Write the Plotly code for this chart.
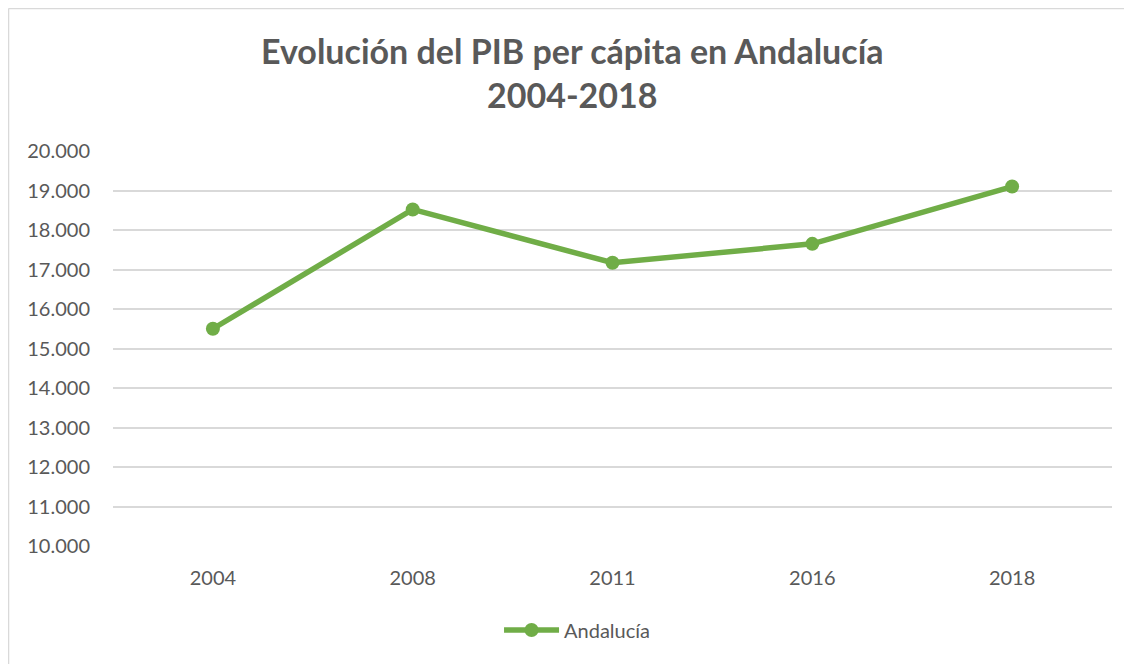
import plotly.graph_objects as go

_TEXT  = "#595959"
_GRID  = "#D9D9D9"
_GREEN = "#70AD47"
_FONT  = "Lato, 'Open Sans', sans-serif"

years = ["2004", "2008", "2011", "2016", "2018"]
pib_andalucia = [15500, 18520, 17170, 17650, 19100]
y_ticks = [10000, 11000, 12000, 13000, 14000, 15000, 16000, 17000, 18000, 19000, 20000]
y_tick_labels = ["10.000", "11.000", "12.000", "13.000", "14.000", "15.000",
                 "16.000", "17.000", "18.000", "19.000", "20.000"]

fig = go.Figure()
fig.add_trace(go.Scatter(
    x=years,
    y=pib_andalucia,
    mode="lines+markers",
    name="Andalucía",
    line=dict(color=_GREEN, width=5.5),
    marker=dict(color=_GREEN, size=14),
))

# chart frame: only the left and top edges show in the window
frame = dict(color=_GRID, width=1.5)

fig.update_layout(
    width=1124, height=656,
    paper_bgcolor="white", plot_bgcolor="white",
    font=dict(family=_FONT, color=_TEXT, size=20),
    margin=dict(l=105, r=20, t=143, b=118),
    xaxis=dict(
        type="category", range=[-0.5, 4.5],
        showgrid=False, zeroline=False, showline=False,
        ticks="", ticklabelstandoff=18,
        tickfont=dict(size=20, color=_TEXT),
    ),
    yaxis=dict(
        range=[10000, 20000], tickvals=y_ticks, ticktext=y_tick_labels,
        showgrid=True, gridcolor=_GRID, gridwidth=1.5, zeroline=False,
        showline=False, ticks="", ticklabelstandoff=22,
        tickfont=dict(size=20, color=_TEXT),
    ),
    showlegend=True,
    legend=dict(
        orientation="h", x=0.4645, xanchor="center", y=-0.2127, yanchor="middle",
        font=dict(size=20, color=_TEXT), itemwidth=55,
    ),
    annotations=[dict(
        text="<b>Evolución del PIB per cápita en Andalucía<br>2004-2018</b>",
        xref="paper", yref="paper", x=0.4595, y=1.2,
        xanchor="center", yanchor="middle", showarrow=False,
        font=dict(size=34, color=_TEXT, family=_FONT),
    )],
    shapes=[
        dict(type="line", xref="paper", yref="paper",
             x0=-0.1046, x1=-0.1046, y0=-0.2987, y1=1.3608, line=frame, layer="below"),
        dict(type="line", xref="paper", yref="paper",
             x0=-0.1046, x1=1.02, y0=1.3608, y1=1.3608, line=frame, layer="below"),
    ],
)

fig.write_html("out.html")
